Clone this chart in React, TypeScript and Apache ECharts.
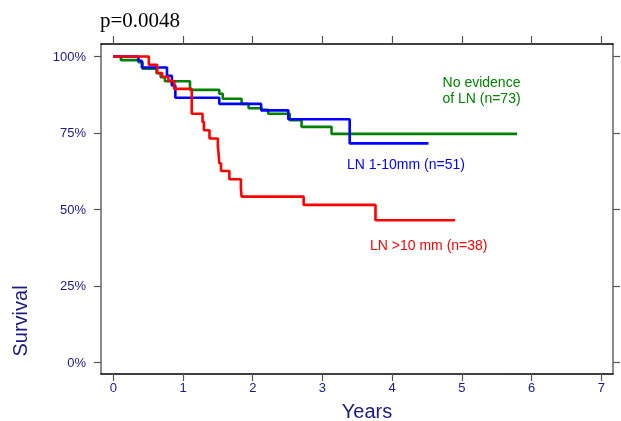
import React, { useEffect, useRef } from "react";
import * as echarts from "echarts";

// Kaplan-Meier curves: time (years) and survival (%) after each step
const greenTimes = [0, 0.11, 0.36, 0.42, 0.62, 0.68, 0.74, 1.1, 1.52, 1.57, 1.84, 1.94, 2.13, 2.22, 2.53, 2.7, 3.13, 5.79];
const greenSurv = [100, 98.8, 98.1, 96.0, 94.5, 93.2, 91.9, 89.1, 87.8, 86.2, 84.5, 83.1, 82.6, 81.3, 79.2, 77.0, 74.7, 74.7];

const blueTimes = [0, 0.36, 0.41, 0.77, 0.84, 0.89, 1.52, 2.12, 2.51, 3.39, 4.52];
const blueSurv = [100, 98.6, 96.4, 93.7, 90.5, 86.5, 84.5, 82.4, 79.5, 71.6, 71.6];

const redTimes = [0, 0.51, 0.63, 0.7, 0.79, 0.875, 1.125, 1.28, 1.3, 1.38, 1.5, 1.51, 1.52, 1.545, 1.665, 1.83, 1.84, 2.73, 3.76, 4.9];
const redSurv = [100, 97.3, 94.6, 93.4, 92.0, 89.4, 81.3, 78.6, 75.9, 73.2, 70.5, 68.3, 65.1, 62.6, 59.9, 57.0, 54.2, 51.5, 46.5, 46.5];

const xTicks = [0, 1, 2, 3, 4, 5, 6, 7];
const yTicks = [0, 25, 50, 75, 100];

const seriesNames = ["No evidence of LN (n=73)", "LN 1-10mm (n=51)", "LN >10 mm (n=38)"];
const pValueText = "p=0.0048";

const SANS = "'Liberation Sans', Arial, Helvetica, sans-serif";
const NAVY = "#1a1a86";

function pairs(t: number[], s: number[]) {
  return t.map((v, i) => [v, s[i]]);
}

export default function App() {
  const ref = useRef<HTMLDivElement>(null);
  useEffect(() => {
    if (!ref.current) return;
    const chart = echarts.init(ref.current, undefined, { renderer: "svg" });
    const xMin = -0.176, xMax = 7.166, yMin = -3.76, yMax = 104.08;
    const baseX = {
      type: "value",
      min: xMin,
      max: xMax,
      splitLine: { show: false },
    };
    const baseY = {
      type: "value",
      min: yMin,
      max: yMax,
      splitLine: { show: false },
    };
    chart.setOption({
      animation: false,
      grid: { left: 101, right: 8, top: 44, bottom: 47, containLabel: false },
      xAxis: [
        {
          ...baseX,
          position: "bottom",
          axisLine: { show: true, onZero: false, lineStyle: { color: "#000", width: 1.5 } },
          axisTick: { show: true, length: 7, customValues: xTicks, lineStyle: { color: "#555", width: 1.2 } },
          axisLabel: { show: true, customValues: xTicks, color: NAVY, fontSize: 13, fontFamily: SANS, margin: 7 },
        },
        {
          ...baseX,
          position: "top",
          axisLine: { show: true, onZero: false, lineStyle: { color: "#000", width: 1.5 } },
          axisTick: { show: true, length: 8, customValues: xTicks, lineStyle: { color: "#555", width: 1.2 } },
          axisLabel: { show: false },
        },
      ],
      yAxis: [
        {
          ...baseY,
          position: "left",
          axisLine: { show: true, onZero: false, lineStyle: { color: "#666", width: 1.5 } },
          axisTick: { show: true, length: 7, customValues: yTicks, lineStyle: { color: "#555", width: 1.2 } },
          axisLabel: {
            show: true,
            customValues: yTicks,
            color: NAVY,
            fontSize: 13,
            fontFamily: SANS,
            margin: 15,
            formatter: "{value}%",
          },
        },
        {
          ...baseY,
          position: "right",
          axisLine: { show: true, onZero: false, lineStyle: { color: "#666", width: 1.5 } },
          axisTick: { show: true, length: 7, customValues: yTicks, lineStyle: { color: "#555", width: 1.2 } },
          axisLabel: { show: false },
        },
      ],
      series: [
        {
          name: seriesNames[0],
          type: "line",
          step: "end",
          data: pairs(greenTimes, greenSurv),
          showSymbol: false,
          lineStyle: { color: "#008000", width: 2.6 },
          itemStyle: { color: "#008000" },
          z: 2,
        },
        {
          name: seriesNames[1],
          type: "line",
          step: "end",
          data: pairs(blueTimes, blueSurv),
          showSymbol: false,
          lineStyle: { color: "#0000ff", width: 2.6 },
          itemStyle: { color: "#0000ff" },
          z: 3,
        },
        {
          name: seriesNames[2],
          type: "line",
          step: "end",
          data: pairs(redTimes, redSurv),
          showSymbol: false,
          lineStyle: { color: "#ff0000", width: 2.6 },
          itemStyle: { color: "#ff0000" },
          z: 4,
        },
      ],
      graphic: [
        {
          type: "text",
          left: 100,
          top: 9,
          style: { text: pValueText, font: "21px 'Liberation Serif', 'Times New Roman', serif", fill: "#000" },
        },
        {
          type: "text",
          x: 481.5,
          y: 89.5,
          style: {
            text: "No evidence\nof LN (n=73)",
            font: `14px ${SANS}`,
            fill: "#008000",
            align: "center",
            verticalAlign: "middle",
            lineHeight: 16,
          },
        },
        {
          type: "text",
          x: 347,
          y: 164,
          style: { text: seriesNames[1], font: `14px ${SANS}`, fill: "#0000ff", align: "left", verticalAlign: "middle" },
        },
        {
          type: "text",
          x: 370,
          y: 245,
          style: { text: seriesNames[2], font: `14px ${SANS}`, fill: "#ff0000", align: "left", verticalAlign: "middle" },
        },
        {
          type: "text",
          x: 367,
          y: 411,
          style: { text: "Years", font: `20px ${SANS}`, fill: NAVY, align: "center", verticalAlign: "middle" },
        },
        {
          type: "text",
          x: 20,
          y: 321,
          rotation: Math.PI / 2,
          style: { text: "Survival", font: `20px ${SANS}`, fill: NAVY, align: "center", verticalAlign: "middle" },
        },
      ],
    });
    return () => chart.dispose();
  }, []);
  return <div ref={ref} style={{ position: "fixed", left: 0, top: 0, width: 621, height: 421 }} />;
}
